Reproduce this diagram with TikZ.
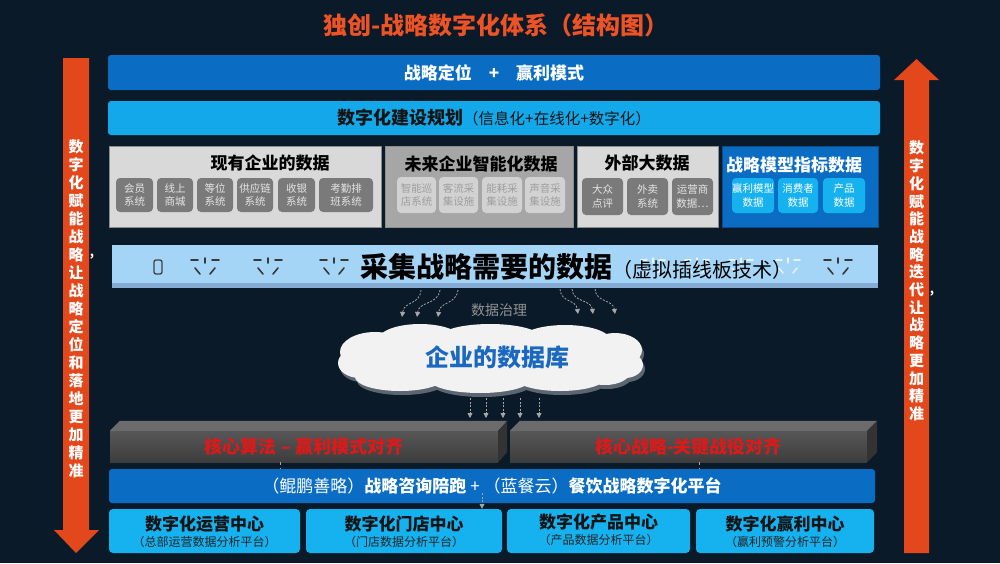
\documentclass[tikz,border=0pt]{standalone}
\usepackage{fontspec}
\setmainfont{Noto Sans CJK SC}
\usetikzlibrary{arrows.meta,shadows,calc}
\definecolor{bg}{HTML}{0B1A28}
\definecolor{oran}{HTML}{E2481C}
\definecolor{ttl}{HTML}{EE5326}
\definecolor{blueA}{HTML}{0A6DC3}
\definecolor{cyanA}{HTML}{12A8EA}
\definecolor{cyanB}{HTML}{16B1EF}
\definecolor{lgray}{HTML}{D9D9D9}
\definecolor{mgray}{HTML}{A6A6A6}
\definecolor{dgray}{HTML}{7A7A7A}
\definecolor{sgray}{HTML}{D2D2D2}
\definecolor{stripc}{HTML}{A5D5F6}
\definecolor{cloudc}{HTML}{F2F2F2}
\definecolor{cloudsh}{HTML}{5C6670}
\definecolor{dbblue}{HTML}{1A68C0}
\definecolor{redt}{HTML}{E01818}
\tikzset{
  bar/.style={rectangle, rounded corners=3pt, inner sep=0pt},
  panel/.style={rectangle, inner sep=0pt, draw=black!45, line width=0.6pt},
  ptitle/.style={inner sep=0pt, font=\bfseries\fontsize{17}{20}\selectfont},
  sub/.style={rectangle, rounded corners=4pt, align=center, inner sep=0pt, font=\fontsize{10.5}{13.5}\selectfont},
  subdark/.style={sub, fill=dgray, text=white!90!black},
  sublight/.style={sub, fill=sgray, text=black!38},
  subcyan/.style={sub, fill=cyanB, text=white},
  dflow/.style={draw=gray!70, dashed, dash pattern=on 2pt off 1.5pt, line width=0.8pt, -{Triangle[width=5pt,length=5pt]}},
  socketline/.style={line width=1.6pt, draw=black!78, line cap=round},
  ghostline/.style={line width=1.4pt, draw=white!75!stripc, line cap=round},
  socketpic/.pic={
    \draw[socketline] (-14,-5) -- (-7,-5);
    \draw[socketline] (7,-5) -- (14,-5);
    \draw[socketline] (0,-7) -- (0,-2);
    \draw[socketline] (-10,3) -- (-5,9);
    \draw[socketline] (10,3) -- (5,9);
  },
  ghostpic/.pic={
    \draw[ghostline] (-12,-5) -- (-6,-5);
    \draw[ghostline] (6,-5) -- (12,-5);
    \draw[ghostline] (0,-7) -- (0,-2);
    \draw[ghostline] (-9,3) -- (-5,8);
    \draw[ghostline] (9,3) -- (5,8);
  },
  blockfront/.style={rectangle, inner sep=0pt, top color=black!66, bottom color=black!76, text=redt, font=\bfseries\fontsize{18}{21}\selectfont},
  center/.style={rectangle, rounded corners=4pt, fill=cyanB, inner sep=0pt, minimum height=44pt},
  ctitle/.style={inner sep=0pt, text=black!92, font=\bfseries\fontsize{17}{19}\selectfont},
  csub/.style={inner sep=0pt, text=black!85, font=\fontsize{12}{14}\selectfont},
}
\begin{document}
\begin{tikzpicture}[x=1pt,y=-1pt]
\useasboundingbox (0,0) rectangle (1000,563);
\fill[bg] (0,0) rectangle (1000,563);

% title
\node[text=ttl, font=\bfseries\fontsize{24}{28}\selectfont] (title) at (496,25) {独创-战略数字化体系（结构图）};

% side arrows
\fill[oran] (63,58) -- (89,58) -- (89,530) -- (99,530) -- (76,553) -- (54,530) -- (63,530) -- cycle;
\node[text=white, align=center, inner sep=0pt, font=\bfseries\fontsize{15}{18}\selectfont] (ltxt) at (76,309)
 {数\\字\\化\\赋\\能\\战\\略\\让\\战\\略\\定\\位\\和\\落\\地\\更\\加\\精\\准};
\node[text=white, font=\bfseries\fontsize{12}{14}\selectfont, inner sep=0pt] (lcomma) at (92,257) {,};
\fill[oran] (904,553) -- (929,553) -- (929,80) -- (939,80) -- (916.5,59) -- (894,80) -- (904,80) -- cycle;
\node[text=white, align=center, inner sep=0pt, font=\bfseries\fontsize{15}{17.7}\selectfont] (rtxt) at (916.5,281)
 {数\\字\\化\\赋\\能\\战\\略\\迭\\代\\让\\战\\略\\更\\加\\精\\准};
\node[text=white, font=\bfseries\fontsize{12}{14}\selectfont, inner sep=0pt] (rcomma) at (932,294) {,};

% top bars
\node[bar, fill=blueA, minimum width=772pt, minimum height=35pt, text=white, font=\bfseries\fontsize{17}{20}\selectfont] (bar1) at (494,72.5) {战略定位\quad +\quad 赢利模式};
\node[bar, fill=cyanA, minimum width=772pt, minimum height=34pt, text=black!92] (bar2) at (494,118)
 {{\bfseries\fontsize{18}{21}\selectfont 数字化建设规划}{\fontsize{15.5}{18}\selectfont（信息化+在线化+数字化）}};

% data panels
\node[panel, fill=lgray, minimum width=272pt, minimum height=81pt] (boxA) at (245,186.5) {};
\node[panel, fill=mgray, minimum width=188pt, minimum height=81pt] (boxB) at (479,186.5) {};
\node[panel, fill=lgray, minimum width=141pt, minimum height=81pt] (boxC) at (647.5,186.5) {};
\node[panel, fill=blueA, draw=blueA!70!black, minimum width=156pt, minimum height=81pt] (boxD) at (800,186.5) {};
\node[ptitle] (tA) at (270,163) {现有企业的数据};
\node[ptitle] (tB) at (481,164.5) {未来企业智能化数据};
\node[ptitle] (tC) at (647,163.5) {外部大数据};
\node[ptitle, text=white] (tD) at (794,165) {战略模型指标数据};

\node[subdark, minimum width=37pt, minimum height=34pt] (a1) at (134.5,195) {会员\\系统};
\node[subdark, minimum width=36pt, minimum height=34pt] (a2) at (175,195) {线上\\商城};
\node[subdark, minimum width=36pt, minimum height=34pt] (a3) at (215,195) {等位\\系统};
\node[subdark, minimum width=36pt, minimum height=34pt] (a4) at (255,195) {供应链\\系统};
\node[subdark, minimum width=37pt, minimum height=34pt] (a5) at (296.5,195) {收银\\系统};
\node[subdark, minimum width=54pt, minimum height=34pt] (a6) at (346,195) {考勤排\\班系统};

\node[sublight, minimum width=39pt, minimum height=36pt] (b1) at (416.5,195) {智能巡\\店系统};
\node[sublight, minimum width=39pt, minimum height=36pt] (b2) at (458.5,195) {客流采\\集设施};
\node[sublight, minimum width=40pt, minimum height=36pt] (b3) at (502,195) {能耗采\\集设施};
\node[sublight, minimum width=40pt, minimum height=36pt] (b4) at (545,195) {声音采\\集设施};

\node[subdark, minimum width=41pt, minimum height=37pt] (c1) at (602.5,196.5) {大众\\点评};
\node[subdark, minimum width=41pt, minimum height=37pt] (c2) at (647.5,196.5) {外卖\\系统};
\node[subdark, minimum width=41pt, minimum height=37pt] (c3) at (692.5,196.5) {运营商\\数据…};

\node[subcyan, minimum width=40pt, minimum height=35pt] (d1) at (753,195.5) {赢利模型\\数据};
\node[subcyan, minimum width=40pt, minimum height=35pt] (d2) at (798,195.5) {消费者\\数据};
\node[subcyan, minimum width=42pt, minimum height=35pt] (d3) at (844,195.5) {产品\\数据};

% power strip
\node[rectangle, fill=stripc, inner sep=0pt, minimum width=766pt, minimum height=43pt] (strip) at (495,266.5) {};
\fill[stripc!72!black!90!blue, opacity=0.55] ($(strip.south west)+(0,-5)$) rectangle (strip.south east);
\draw[line width=1.3pt, draw=black!75, rounded corners=2pt] (154,260) rectangle (162,274);
\pic at (205,265) {socketpic};
\pic at (268,265) {socketpic};
\pic at (334,265) {socketpic};
\pic at (653,265) {ghostpic};
\pic at (697,265) {ghostpic};
\pic at (741,265) {ghostpic};
\pic at (788,265) {ghostpic};
\pic at (838,265) {socketpic};
\node[anchor=base west, inner sep=0pt, text=black] (stxt) at (360,277)
 {{\bfseries\fontsize{28}{32}\selectfont 采集战略需要的数据}{\fontsize{20}{24}\selectfont（虚拟插线板技术）}};

% governance arrows
\coordinate (g1) at (421,290); \coordinate (h1) at (402,317);
\coordinate (g2) at (440,290); \coordinate (h2) at (417,317);
\coordinate (g3) at (458,290); \coordinate (h3) at (438,317);
\draw[dflow] (g1) .. controls (420,305) and (404,301) .. (h1);
\draw[dflow] (g2) .. controls (438,305) and (419,301) .. (h2);
\draw[dflow] (g3) .. controls (456,305) and (440,301) .. (h3);
\coordinate (r1) at (560,289); \coordinate (q1) at (578,314);
\coordinate (r2) at (572,289); \coordinate (q2) at (593,314);
\coordinate (r3) at (595,289); \coordinate (q3) at (615,314);
\draw[dflow] (r1) .. controls (561,303) and (576,299) .. (q1);
\draw[dflow] (r2) .. controls (573,303) and (591,299) .. (q2);
\draw[dflow] (r3) .. controls (596,303) and (613,299) .. (q3);
\node[text=gray!85, font=\fontsize{14}{16}\selectfont] (gov) at (499,310) {数据治理};

% cloud (union of ellipses, with shadow)
\foreach \sh/\col in {4/cloudsh, 0/cloudc} {
  \foreach \cx/\cy/\rx/\ry in {490/358/130/26, 375/352/35/20, 360/363/22/15, 420/340/42/16,
      490/337/50/13, 565/340/45/15, 615/350/27/17, 625/365/18/13,
      400/377/45/14, 480/380/50/13, 560/378/45/13, 605/372/25/13} {
    \fill[\col] (\cx+\sh*0.5,\cy+\sh) ellipse [x radius=\rx, y radius=\ry];
  }
}
\node[inner sep=0pt, minimum width=304pt, minimum height=68pt] (cloud) at (490,358) {};
\node[text=dbblue, font=\bfseries\fontsize{24}{28}\selectfont] (ctxt) at (497,357) {企业的数据库};
\foreach \x [count=\i] in {470,486,503,520,539} {
  \coordinate (cu\i) at (\x,398); \coordinate (cd\i) at (\x,418);
  \draw[dflow] (cu\i) -- (cd\i);
}

% 3D blocks
\node[blockfront, minimum width=388pt, minimum height=31pt] (blkL) at (304,446.5) {核心算法 – 赢利模式对齐};
\fill[black!58] (blkL.north west) -- ++(10,-10) -- ($(blkL.north east)+(9,-10)$) -- (blkL.north east) -- cycle;
\fill[black!80] (blkL.north east) -- ++(9,-10) -- ($(blkL.south east)+(9,-10)$) -- (blkL.south east) -- cycle;
\node[blockfront, minimum width=357pt, minimum height=31pt] (blkR) at (688.5,446.5) {核心战略-关键战役对齐};
\fill[black!58] (blkR.north west) -- ++(10,-10) -- ($(blkR.north east)+(10,-10)$) -- (blkR.north east) -- cycle;
\fill[black!80] (blkR.north east) -- ++(10,-10) -- ($(blkR.south east)+(10,-10)$) -- (blkR.south east) -- cycle;

% bar 3
\node[bar, fill=blueA, minimum width=766pt, minimum height=34pt, text=white, font=\fontsize{17}{20}\selectfont] (bar3) at (492,486)
 {（鲲鹏善略）{\bfseries 战略咨询陪跑} + （蓝餐云）{\bfseries 餐饮战略数字化平台}};
\coordinate (k1) at (280,462); \coordinate (k2) at (699,462);
\draw[gray!70, dashed, line width=0.8pt] (k1) -- (bar3.north -| k1);
\draw[gray!70, dashed, line width=0.8pt] (k2) -- (bar3.north -| k2);

% bottom centres
\node[center, minimum width=191pt] (e1) at (204.5,531) {};
\node[center, minimum width=196pt] (e2) at (404,531) {};
\node[center, minimum width=183pt] (e3) at (598.5,531) {};
\node[center, minimum width=178pt] (e4) at (785,531) {};
\node[ctitle] (e1t) at (204.5,524) {数字化运营中心};
\node[csub] (e1s) at (204.5,542) {（总部运营数据分析平台）};
\node[ctitle] (e2t) at (404,524) {数字化门店中心};
\node[csub] (e2s) at (404,542) {（门店数据分析平台）};
\node[ctitle] (e3t) at (598.5,522) {数字化产品中心};
\node[csub] (e3s) at (598.5,540) {（产品数据分析平台）};
\node[ctitle] (e4t) at (785,524) {数字化赢利中心};
\node[csub] (e4s) at (785,542) {（赢利预警分析平台）};
\coordinate (pl) at (482,493);
\draw[dflow] (pl) -- (e2.north -| pl);
\end{tikzpicture}
\end{document}
